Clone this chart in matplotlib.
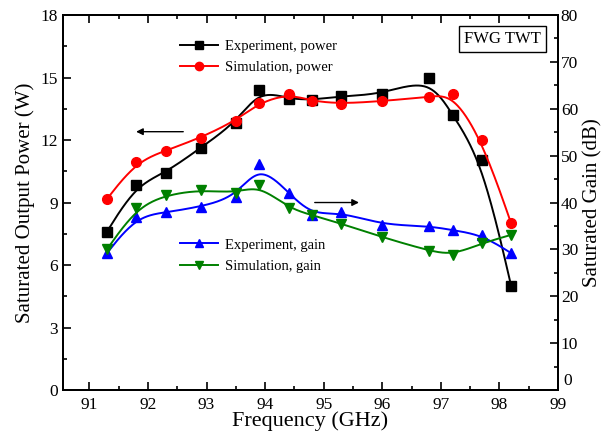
import numpy as np
import matplotlib.pyplot as plt
from matplotlib.ticker import MultipleLocator, FuncFormatter

plt.rcParams['font.family'] = ['Liberation Serif', 'DejaVu Serif']
plt.rcParams['mathtext.fontset'] = 'stix'

# frequency points (GHz)
freq = [91.3, 91.8, 92.3, 92.9, 93.5, 93.9, 94.4, 94.8, 95.3, 96.0, 96.8, 97.2, 97.7, 98.2]

# saturated output power (W)
exp_power = [7.6, 9.84, 10.42, 11.63, 12.83, 14.4, 13.98, 13.92, 14.11, 14.19, 15.0, 13.2, 11.03, 5.0]
sim_power = [9.17, 10.95, 11.49, 12.11, 12.93, 13.79, 14.22, 13.87, 13.74, 13.87, 14.07, 14.22, 12.02, 8.0]

# saturated gain (dB)
exp_gain = [29.2, 37.0, 37.9, 39.1, 41.2, 48.2, 42.1, 37.3, 38.0, 35.2, 35.0, 34.1, 33.1, 29.2]
sim_gain = [30.0, 38.8, 41.6, 42.7, 42.0, 43.7, 38.8, 37.3, 35.5, 32.6, 29.7, 28.8, 31.3, 33.1]


def bspline(x, y, n=40):
    """Uniform cubic B-spline using the data points as control points,
    end points repeated so the curve starts and ends on them."""
    px = np.concatenate([[x[0]] * 2, x, [x[-1]] * 2])
    py = np.concatenate([[y[0]] * 2, y, [y[-1]] * 2])
    t = np.linspace(0, 1, n, endpoint=False)
    b0 = (1 - t) ** 3 / 6
    b1 = (3 * t**3 - 6 * t**2 + 4) / 6
    b2 = (-3 * t**3 + 3 * t**2 + 3 * t + 1) / 6
    b3 = t**3 / 6
    xs, ys = [], []
    for i in range(len(px) - 3):
        xs.append(b0 * px[i] + b1 * px[i + 1] + b2 * px[i + 2] + b3 * px[i + 3])
        ys.append(b0 * py[i] + b1 * py[i + 1] + b2 * py[i + 2] + b3 * py[i + 3])
    xs.append([x[-1]])
    ys.append([y[-1]])
    return np.concatenate(xs), np.concatenate(ys)


fig = plt.figure(figsize=(6.07, 4.32), dpi=100)
ax = fig.add_axes([0.1038, 0.0972, 0.8155, 0.868])
ax2 = ax.twinx()

def draw(axis, y, color, marker, label):
    sx, sy = bspline(np.array(freq), np.array(y))
    axis.plot(sx, sy, color=color, lw=1.4)
    axis.plot(freq, y, color=color, marker=marker, ms=7, ls='none')
    # legend handle: line with a small marker in the middle
    return axis.plot([], [], color=color, lw=1.4, marker=marker, ms=6, label=label)[0]

h1 = draw(ax, exp_power, 'black', 's', 'Experiment, power')
h2 = draw(ax, sim_power, 'red', 'o', 'Simulation, power')
h3 = draw(ax2, exp_gain, 'blue', '^', 'Experiment, gain')
h4 = draw(ax2, sim_gain, 'green', 'v', 'Simulation, gain')

ax.set_xlim(90.55, 99)
ax.set_ylim(0, 18)
ax2.set_ylim(0, 80)

ax.xaxis.set_major_locator(MultipleLocator(1))
ax.xaxis.set_minor_locator(MultipleLocator(0.5))
ax.yaxis.set_major_locator(MultipleLocator(3))
ax.yaxis.set_minor_locator(MultipleLocator(1.5))
ax2.yaxis.set_major_locator(MultipleLocator(10))
ax2.yaxis.set_minor_locator(MultipleLocator(5))
# the gain-axis zero is written separately, a little above the corner
ax2.yaxis.set_major_formatter(FuncFormatter(lambda v, p: '' if v == 0 else f'{v:g}'))

ax.tick_params(which='both', direction='in', top=True, labelsize=12.5, width=1.2)
ax.tick_params(which='major', length=6)
ax.tick_params(which='minor', length=3)
ax.tick_params(axis='x', pad=5)
ax2.tick_params(which='both', direction='in', labelsize=12.5, width=1.2, pad=2)
ax2.tick_params(which='major', length=6)
ax2.tick_params(which='minor', length=3)
for a in (ax, ax2):
    for s in a.spines.values():
        s.set_linewidth(1.4)

ax2.annotate('0', xy=(1, 0), xycoords='axes fraction', xytext=(3.5, 1),
             textcoords='offset points', ha='left', va='bottom', fontsize=12.5)

ax.set_xlabel('Frequency (GHz)', fontsize=16, labelpad=-1)
ax.set_ylabel('Saturated Output Power (W)', fontsize=15, labelpad=4)
ax2.set_ylabel('Saturated Gain (dB)', fontsize=15, labelpad=4)

leg1 = ax2.legend(handles=[h1, h2], loc='upper left', bbox_to_anchor=(0.225, 0.95),
                  frameon=False, fontsize=10.5, handlelength=2.6, borderaxespad=0,
                  labelspacing=0.55, handletextpad=0.5)
ax2.add_artist(leg1)
ax2.legend(handles=[h3, h4], loc='upper left', bbox_to_anchor=(0.225, 0.42),
           frameon=False, fontsize=10.5, handlelength=2.6, borderaxespad=0,
           labelspacing=0.55, handletextpad=0.5)

ax.text(0.965, 0.935, 'FWG TWT', transform=ax.transAxes, ha='right', va='center',
        fontsize=12, bbox=dict(boxstyle='square,pad=0.3', fc='white', ec='black', lw=1))

# arrows pointing to the matching axis
ax.annotate('', xy=(91.75, 12.4), xytext=(92.65, 12.4),
            arrowprops=dict(arrowstyle='-|>', color='black', lw=1, mutation_scale=10))
ax.annotate('', xy=(95.65, 9.0), xytext=(94.8, 9.0),
            arrowprops=dict(arrowstyle='-|>', color='black', lw=1, mutation_scale=10))

plt.savefig('out.png', dpi=100)
